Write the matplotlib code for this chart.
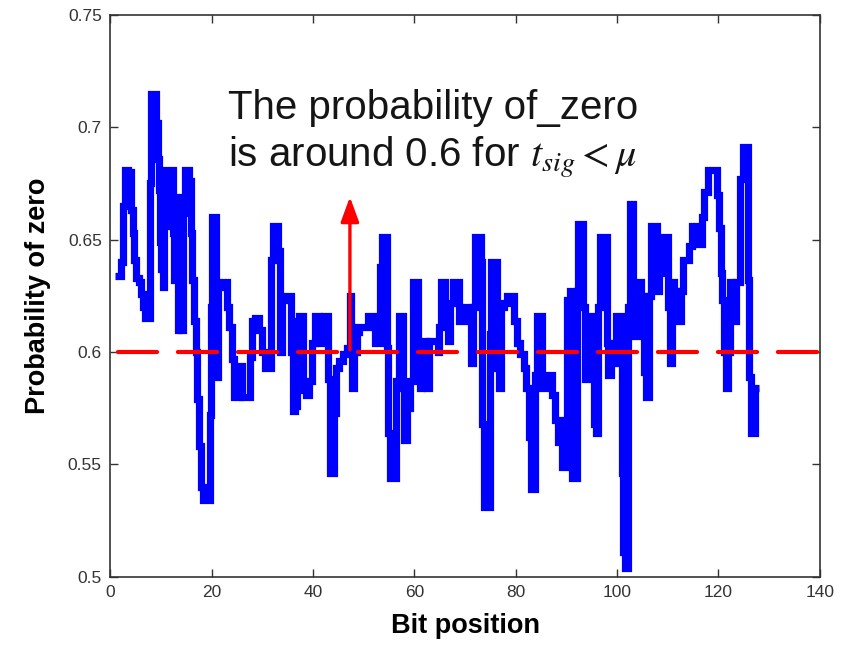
import matplotlib
matplotlib.use("Agg")
import matplotlib.pyplot as plt
from matplotlib import font_manager

plt.rcParams['font.family'] = ['Liberation Sans', 'DejaVu Sans']
plt.rcParams['mathtext.fontset'] = 'stix'

# Bit position (x) and probability of zero (y)
bit_pos = [1.0, 1.8, 2.3, 2.7, 3.2, 4.0, 4.3, 4.6, 5.0, 5.3, 5.9, 6.3, 6.6, 7.0, 7.9,
           8.0, 8.3, 8.9, 9.2, 9.5, 9.8, 9.9, 10.2, 10.5, 10.8, 11.4, 12.4, 12.5,
           12.8, 13.1, 13.5, 13.8, 14.1, 14.5, 15.1, 15.9, 16.1, 16.4, 16.7, 17.0,
           17.4, 17.7, 18.1, 18.4, 19.7, 19.8, 19.9, 20.1, 20.8, 21.1, 21.6, 22.0,
           22.7, 23.3, 23.7, 24.3, 24.6, 25.6, 25.8, 26.1, 27.4, 27.7, 28.3, 29.0,
           29.6, 30.3, 30.9, 31.5, 31.9, 32.3, 33.0, 33.3, 33.7, 34.3, 34.8, 35.5,
           35.9, 36.3, 36.7, 37.0, 37.4, 37.9, 38.2, 39.0, 39.6, 40.2, 40.6, 41.0,
           41.3, 42.0, 42.4, 42.8, 43.1, 43.5, 43.9, 44.4, 44.8, 45.6, 46.4, 47.0,
           47.5, 47.7, 47.9, 48.4, 48.8, 49.3, 50.6, 51.2, 52.0, 52.4, 53.0, 53.4,
           53.8, 54.5, 54.7, 55.0, 55.4, 56.2, 56.6, 57.2, 57.6, 57.9, 58.2, 58.8,
           59.4, 60.0, 60.6, 61.0, 61.3, 61.8, 62.3, 62.7, 63.1, 64.4, 64.8, 65.0,
           65.4, 66.0, 66.3, 66.8, 67.4, 68.0, 68.6, 68.9, 69.5, 70.3, 70.9, 71.4,
           71.7, 72.1, 73.0, 73.3, 73.5, 73.9, 74.8, 75.1, 75.3, 76.2, 76.6, 77.0,
           77.3, 77.9, 78.5, 79.4, 79.9, 80.5, 81.3, 81.8, 82.4, 82.8, 83.2, 83.8,
           84.0, 84.3, 85.0, 85.4, 86.3, 86.8, 87.4, 88.0, 88.8, 89.5, 90.0, 90.4,
           91.0, 91.3, 91.8, 92.2, 92.5, 93.2, 93.5, 93.8, 94.3, 94.9, 95.3, 95.7,
           96.1, 96.5, 96.9, 97.8, 98.1, 98.5, 99.0, 99.6, 100.0, 100.9, 101.1,
           101.4, 101.7, 102.1, 102.3, 102.6, 103.0, 103.3, 103.6, 104.5, 105.1,
           105.4, 105.9, 106.5, 106.9, 107.8, 108.1, 108.6, 109.3, 110.0, 110.2,
           110.5, 111.0, 111.6, 112.3, 112.9, 113.2, 113.9, 114.5, 115.2, 115.8,
           116.4, 116.9, 117.5, 118.2, 119.5, 120.0, 120.3, 120.6, 120.9, 121.2,
           121.6, 122.2, 122.3, 122.9, 123.2, 123.9, 124.5, 125.2, 125.6, 126.0,
           126.2, 126.5, 127.1, 127.4, 127.9]
prob_zero = [0.634, 0.634, 0.640, 0.665, 0.681, 0.680, 0.663, 0.653, 0.641, 0.633, 0.631,
             0.626, 0.620, 0.615, 0.615, 0.675, 0.715, 0.715, 0.702, 0.686, 0.672, 0.649,
             0.637, 0.629, 0.656, 0.681, 0.681, 0.653, 0.632, 0.669, 0.610, 0.649, 0.610,
             0.662, 0.681, 0.676, 0.653, 0.632, 0.614, 0.600, 0.579, 0.558, 0.540, 0.534,
             0.534, 0.572, 0.620, 0.660, 0.660, 0.589, 0.629, 0.631, 0.631, 0.620, 0.611,
             0.597, 0.580, 0.580, 0.594, 0.580, 0.580, 0.598, 0.614, 0.615, 0.610, 0.600,
             0.593, 0.593, 0.641, 0.656, 0.656, 0.645, 0.600, 0.623, 0.625, 0.625, 0.600,
             0.574, 0.576, 0.614, 0.616, 0.616, 0.583, 0.581, 0.587, 0.604, 0.616, 0.616,
             0.604, 0.604, 0.616, 0.616, 0.588, 0.546, 0.546, 0.573, 0.593, 0.596, 0.599,
             0.602, 0.625, 0.611, 0.584, 0.600, 0.609, 0.611, 0.611, 0.616, 0.616, 0.604,
             0.604, 0.638, 0.651, 0.651, 0.602, 0.564, 0.544, 0.544, 0.587, 0.616, 0.616,
             0.584, 0.561, 0.575, 0.587, 0.631, 0.631, 0.600, 0.584, 0.605, 0.605, 0.584,
             0.605, 0.605, 0.600, 0.611, 0.631, 0.631, 0.616, 0.605, 0.622, 0.631, 0.631,
             0.614, 0.620, 0.620, 0.614, 0.595, 0.620, 0.651, 0.651, 0.640, 0.568, 0.531,
             0.531, 0.608, 0.640, 0.640, 0.593, 0.584, 0.620, 0.622, 0.625, 0.625, 0.614,
             0.604, 0.599, 0.593, 0.584, 0.562, 0.539, 0.539, 0.590, 0.616, 0.616, 0.584,
             0.584, 0.590, 0.581, 0.570, 0.560, 0.549, 0.570, 0.623, 0.627, 0.544, 0.544,
             0.627, 0.657, 0.657, 0.620, 0.588, 0.616, 0.616, 0.592, 0.568, 0.564, 0.620,
             0.651, 0.651, 0.604, 0.590, 0.604, 0.595, 0.616, 0.616, 0.546, 0.511, 0.504,
             0.504, 0.620, 0.666, 0.666, 0.620, 0.607, 0.631, 0.625, 0.591, 0.580, 0.625,
             0.656, 0.656, 0.627, 0.635, 0.651, 0.651, 0.620, 0.595, 0.631, 0.627, 0.614,
             0.627, 0.641, 0.641, 0.647, 0.656, 0.653, 0.648, 0.660, 0.671, 0.681, 0.681,
             0.670, 0.655, 0.635, 0.623, 0.600, 0.584, 0.600, 0.631, 0.627, 0.614, 0.631,
             0.677, 0.691, 0.691, 0.632, 0.589, 0.564, 0.564, 0.584, 0.584]

threshold = 0.6
x_ticks = [0, 20, 40, 60, 80, 100, 120, 140]
y_ticks = [0.5, 0.55, 0.6, 0.65, 0.7, 0.75]
y_tick_labels = ['0.5', '0.55', '0.6', '0.65', '0.7', '0.75']
arrow_x = 47.3
arrow_y0, arrow_y1 = 0.601, 0.669

available = {f.name for f in font_manager.fontManager.ttflist}
tick_family = 'Liberation Sans Narrow' if 'Liberation Sans Narrow' in available else 'Liberation Sans'

fig = plt.figure(figsize=(8.47, 6.46), dpi=100)
ax = fig.add_axes([0.130, 0.107, 0.838, 0.870])

ax.plot(bit_pos, prob_zero, color='#0000ff', linewidth=5.2, drawstyle='steps-mid',
        solid_joinstyle='miter', solid_capstyle='butt', zorder=2)
ax.axhline(threshold, color='#ff0000', linewidth=3.0, linestyle=(12.5, (9.4, 5.0)),
           dash_capstyle='round', zorder=3)

ax.annotate('', xy=(arrow_x, arrow_y1), xytext=(arrow_x, arrow_y0),
            arrowprops=dict(arrowstyle='-|>,head_length=1.5,head_width=0.55',
                            color='#ff0000', lw=2.4, shrinkA=0, shrinkB=0),
            zorder=4)

ax.text(0.166, 0.868, 'The probability of_zero\nis around 0.6 for $t_{sig} < \\mu$',
        transform=ax.transAxes, fontsize=29, color='#151515', va='top', ha='left',
        linespacing=1.22)

ax.set_xlim(0, 140)
ax.set_ylim(0.5, 0.75)
ax.set_xticks(x_ticks)
ax.set_yticks(y_ticks)
ax.set_yticklabels(y_tick_labels)
ax.tick_params(direction='in', length=6, width=1, colors='#333333', labelsize=12.5,
               top=True, right=True, pad=6)
for lbl in ax.get_xticklabels() + ax.get_yticklabels():
    lbl.set_color('#333333')
    lbl.set_family(tick_family)
for sp in ax.spines.values():
    sp.set_color('#333333')
    sp.set_linewidth(1.2)

ax.set_xlabel('Bit position', fontsize=19.5, fontweight='bold', labelpad=9)
ax.set_ylabel('Probability of zero', fontsize=19.5, fontweight='bold', labelpad=12)

fig.savefig('out.png', dpi=100)
